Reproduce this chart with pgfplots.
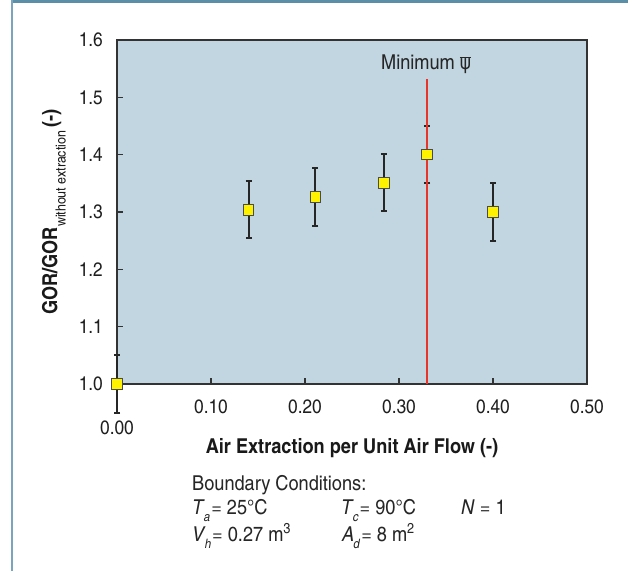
\documentclass[border=0pt]{standalone}
\usepackage{fontspec}
\setmainfont{texgyreheroscn}[Extension=.otf, UprightFont=*-regular, BoldFont=*-bold, ItalicFont=*-italic, BoldItalicFont=*-bolditalic, FakeStretch=1.08]
\newfontfamily\dejavu{DejaVu Sans}[FakeStretch=0.85]
\usepackage{pgfplots}
\pgfplotsset{compat=1.18}
\definecolor{bgblue}{HTML}{C2D6E1}
\definecolor{barteal}{HTML}{5B8FA8}
\definecolor{lineblue}{HTML}{7AA5BC}
\definecolor{axgray}{HTML}{333333}
\definecolor{redline}{HTML}{E8352B}
\newcommand{\sub}[2]{\textit{#1}\kern-0.05em\raisebox{-0.36em}{\fontsize{13}{14}\selectfont\textit{#2}}\kern0.05em}
\begin{document}
\begin{tikzpicture}[x=1pt,y=1pt]
\useasboundingbox (0,0) rectangle (628,571);
\fill[barteal] (11,567.5) rectangle (628,571);
\fill[lineblue] (11,0) rectangle (13,571);
\begin{axis}[
  at={(117pt,187pt)}, anchor=south west,
  width=470pt, height=344pt, scale only axis,
  xmin=0, xmax=0.5, ymin=1.0, ymax=1.6,
  clip=false,
  axis background/.style={fill=bgblue},
  axis line style={axgray, line width=1.4pt},
  tick style={axgray, line width=1.4pt},
  tick align=inside, major tick length=6pt,
  xtick pos=bottom, ytick pos=left,
  xtick={0.1,0.2,0.3,0.4,0.5},
  xticklabels={0.10,0.20,0.30,0.40,0.50},
  extra x ticks={0}, extra x tick labels={0.00},
  extra x tick style={tick label style={yshift=-21pt}},
  ytick={1.0,1.1,1.2,1.3,1.4,1.5,1.6},
  yticklabels={1.0,1.1,1.2,1.3,1.4,1.5,1.6},
  tick label style={font=\fontsize{19.5}{22}\selectfont, text=black!88},
  xticklabel style={anchor=base, inner sep=0pt, yshift=-29.5pt},
  yticklabel style={anchor=east, inner sep=0pt, xshift=-14pt},
  xlabel={\textbf{Air Extraction per Unit Air Flow (-)}},
  xlabel style={font=\fontsize{20.5}{24}\selectfont, text=black!90,
    at={(axis description cs:0.5,0)}, anchor=base, inner sep=0pt, yshift=-69pt},
  ylabel={\textbf{GOR/GOR}\raisebox{-0.42em}{\fontsize{14}{15}\selectfont without extraction}\,\textbf{(-)}},
  ylabel style={font=\fontsize{20.5}{24}\selectfont, text=black!90,
    at={(axis description cs:-0.12766,0.5)}, anchor=base, inner sep=0pt},
]
% error bars
\addplot[draw=none, mark=none, forget plot,
  error bars/.cd, y dir=both, y explicit,
  error bar style={line width=2pt, black!85},
  error mark options={rotate=90, mark size=3pt, line width=2pt, black!85}]
  coordinates {
  (0.000,1.000) +- (0,0.05)
  (0.140,1.304) +- (0,0.05)
  (0.211,1.326) +- (0,0.05)
  (0.284,1.351) +- (0,0.05)
  (0.330,1.400) +- (0,0.05)
  (0.400,1.300) +- (0,0.05)
  };
% minimum line
\addplot[redline, line width=1.8pt, forget plot] coordinates {(0.33,1.0) (0.33,1.532)};
% markers
\addplot[only marks, mark=square*, mark size=5.3pt,
  mark options={fill=yellow, draw=black!70, line width=1pt}]
  coordinates {
  (0.000,1.000)
  (0.140,1.304)
  (0.211,1.326)
  (0.284,1.351)
  (0.330,1.400)
  (0.400,1.300)
  };
\end{axis}
\begin{scope}[font=\fontsize{20.5}{24}\selectfont, text=black!85]
\node[anchor=base west, inner sep=0pt] at (381,571-70) {Minimum $\overline{\hbox{\dejavu\fontsize{20}{22}\selectfont ψ}}$};
\node[anchor=base west, inner sep=0pt] at (192,571-490) {Boundary Conditions:};
\node[anchor=base west, inner sep=0pt] at (192,571-514) {\sub{T}{a} = 25°C};
\node[anchor=base west, inner sep=0pt] at (341,571-514) {\sub{T}{c} = 90°C};
\node[anchor=base west, inner sep=0pt] at (461,571-514) {\textit{N} = 1};
\node[anchor=base west, inner sep=0pt] at (192,571-541) {\sub{V}{h} = 0.27 m\textsuperscript{3}};
\node[anchor=base west, inner sep=0pt] at (342,571-541) {\sub{A}{d} = 8 m\textsuperscript{2}};
\end{scope}
\end{tikzpicture}
\end{document}
